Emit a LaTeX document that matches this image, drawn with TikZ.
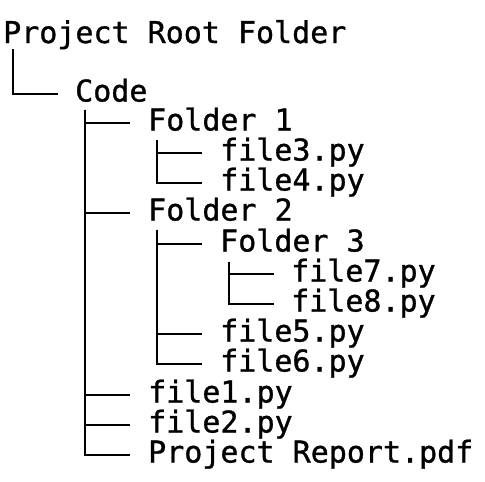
\documentclass[tikz,border=0pt]{standalone}
\usepackage{fontspec}
\newfontfamily\treefont[FakeBold=1]{DejaVu Sans Mono}
\begin{document}
\begin{tikzpicture}[x=1pt,y=-1pt,
  item/.style={font=\treefont\fontsize{30}{30}\selectfont, inner sep=0pt, text height=20pt, text depth=5pt, anchor=west},
  branch/.style={draw=black, line width=2.5pt}]
\useasboundingbox (0,0) rectangle (485,482);
\fill[white] (0,0) rectangle (485,482);
% nodes
\node[item] (root) at (3,35.5) {Project Root Folder};
\node[item] (code) at (75,94) {Code};
\node[item] (f1) at (148,123) {Folder 1};
\node[item] (p3) at (220,153) {file3.py};
\node[item] (p4) at (220,183) {file4.py};
\node[item] (f2) at (148,213) {Folder 2};
\node[item] (f3) at (220,244) {Folder 3};
\node[item] (p7) at (291,274) {file7.py};
\node[item] (p8) at (291,304) {file8.py};
\node[item] (p5) at (220,334) {file5.py};
\node[item] (p6) at (220,364) {file6.py};
\node[item] (p1) at (148,395) {file1.py};
\node[item] (p2) at (148,425) {file2.py};
\node[item] (pr) at (148,455) {Project Report.pdf};
% vertical line tops
\coordinate (rootT) at ([xshift=10pt,yshift=-1pt]root.south west);
\coordinate (codeT) at ([xshift=10pt,yshift=-3pt]code.south west);
\coordinate (f1T) at ([xshift=9pt,yshift=-4pt]f1.south west);
\coordinate (f2T) at ([xshift=9pt,yshift=-4pt]f2.south west);
\coordinate (f3T) at ([xshift=9pt,yshift=-5pt]f3.south west);
% connectors
\draw[branch] (rootT) |- ([xshift=-17pt]code.west);
\foreach \c in {f1,f2,p1,p2,pr}{\draw[branch] (codeT) |- ([xshift=-18pt]\c.west);}
\foreach \c in {p3,p4}{\draw[branch] (f1T) |- ([xshift=-18pt]\c.west);}
\foreach \c in {f3,p5,p6}{\draw[branch] (f2T) |- ([xshift=-18pt]\c.west);}
\foreach \c in {p7,p8}{\draw[branch] (f3T) |- ([xshift=-17pt]\c.west);}
\end{tikzpicture}
\end{document}
